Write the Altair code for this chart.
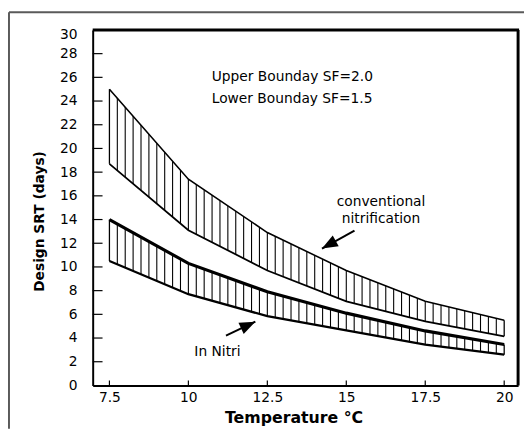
import altair as alt
import pandas as pd

# ---- data ----
temperature = [7.5, 10, 12.5, 15, 17.5, 20]
conv_upper = [25.0, 17.4, 12.9, 9.7, 7.1, 5.5]
conv_lower = [18.7, 13.1, 9.7, 7.1, 5.4, 4.15]
innitri_upper = [14.0, 10.3, 7.9, 6.1, 4.6, 3.45]
innitri_lower = [10.5, 7.7, 5.85, 4.65, 3.45, 2.6]

x_ticks = [7.5, 10, 12.5, 15, 17.5, 20]
y_ticks = [0, 2, 4, 6, 8, 10, 12, 14, 16, 18, 20, 22, 24, 26, 28, 30]
y_inner_ticks = [2, 4, 6, 8, 10, 12, 14, 16, 18, 20, 22, 24, 26, 28]

# annotations
note_text = ["Upper Bounday SF=2.0", "Lower Bounday SF=1.5"]
note_x = [10.74, 10.74]
note_y = [26.0, 24.2]
label_text = ["conventional", "nitrification", "In Nitri"]
label_x = [16.1, 16.1, 10.92]
label_y = [15.5, 14.05, 2.83]
arrow_tail_x = [15.26, 11.19]
arrow_tail_y = [13.07, 4.21]
arrow_head_x = [14.23, 12.12]
arrow_head_y = [11.55, 5.38]
arrow_angle = [241, 65]

df = pd.DataFrame({"T": temperature, "cu": conv_upper, "cl": conv_lower,
                   "iu": innitri_upper, "il": innitri_lower})
notes = pd.DataFrame({"x": note_x, "y": note_y, "t": note_text})
labels = pd.DataFrame({"x": label_x, "y": label_y, "t": label_text})
arrows = pd.DataFrame({"x": arrow_tail_x, "y": arrow_tail_y,
                       "x2": arrow_head_x, "y2": arrow_head_y, "a": arrow_angle})

W, H = 432, 361
xs = alt.Scale(domain=[6.97, 20.44], nice=False, zero=False)
ys = alt.Scale(domain=[0, 30], nice=False, zero=False)
FONT = "DejaVu Sans"

XA = alt.Axis(values=x_ticks, format=".1~f", ticks=False, tickSize=0, grid=False,
              domainColor="black", domainWidth=2, labelFont=FONT, labelFontSize=14,
              labelColor="black", labelPadding=5, labelFlush=False, labelOverlap=False,
              title="Temperature °C", titleFont=FONT, titleFontSize=16,
              titleFontWeight="bold", titleColor="black", titleX=204, titleY=33,
              titleBaseline="middle", titleAlign="center", zindex=1)
YA = alt.Axis(values=y_ticks, ticks=False, tickSize=0, grid=False,
              domainColor="black", domainWidth=2, labelFont=FONT, labelFontSize=14,
              labelColor="black", labelPadding=16, labelFlush=False, labelOverlap=False,
              labelOffset={"condition": {"test": "datum.value == 30", "value": 5}, "value": 0},
              title="Design SRT (days)", titleFont=FONT, titleFontSize=14,
              titleFontWeight="bold", titleColor="black", titleAngle=270,
              titleX=-54, titleY=194, titleBaseline="middle", titleAlign="center", zindex=1)


def X(f):
    return alt.X(f, scale=xs, axis=XA)


def Y(f):
    return alt.Y(f, scale=ys, axis=YA)


base = alt.Chart(df)

# hatch lines (full height, masked afterwards)
hatch = alt.Chart(alt.sequence(7.75, 19.8, 0.25, as_="t")).mark_rule(
    color="black", strokeWidth=1.1).encode(
    x=X("t:Q"),
    y=alt.YDatum(0, type="quantitative", scale=ys, axis=YA),
    y2=alt.Y2Datum(30))

mask_top = base.mark_area(color="white", opacity=1).encode(
    x=X("T:Q"), y=Y("cu:Q"), y2=alt.Y2Datum(30))
mask_mid = base.mark_area(color="white", opacity=1).encode(
    x=X("T:Q"), y=Y("iu:Q"), y2="cl:Q")
mask_bot = base.mark_area(color="white", opacity=1).encode(
    x=X("T:Q"), y=Y("il:Q"), y2=alt.Y2Datum(0))

edges = base.transform_filter("datum.T == 7.5 || datum.T == 20")
edge_conv = edges.mark_rule(color="black", strokeWidth=1.3).encode(
    x=X("T:Q"), y=Y("cl:Q"), y2="cu:Q")
edge_in = edges.mark_rule(color="black", strokeWidth=1.3).encode(
    x=X("T:Q"), y=Y("il:Q"), y2="iu:Q")

line_cu = base.mark_line(color="black", strokeWidth=1.6).encode(x=X("T:Q"), y=Y("cu:Q"))
line_cl = base.mark_line(color="black", strokeWidth=1.8).encode(x=X("T:Q"), y=Y("cl:Q"))
line_iu = base.mark_line(color="black", strokeWidth=3.2).encode(x=X("T:Q"), y=Y("iu:Q"))
line_il = base.mark_line(color="black", strokeWidth=2.3).encode(x=X("T:Q"), y=Y("il:Q"))

note_marks = alt.Chart(notes).mark_text(align="left", baseline="middle", font=FONT,
                                        fontSize=14, color="black").encode(
    x=X("x:Q"), y=Y("y:Q"), text="t:N")
label_marks = alt.Chart(labels).mark_text(align="center", baseline="middle", font=FONT,
                                          fontSize=14, color="black").encode(
    x=X("x:Q"), y=Y("y:Q"), text="t:N")

shaft = alt.Chart(arrows).mark_rule(color="black", strokeWidth=2).encode(
    x=X("x:Q"), y=Y("y:Q"), x2="x2:Q", y2="y2:Q")
head = alt.Chart(arrows).mark_point(shape="M0,0L0.55,1.4L-0.55,1.4Z", filled=True,
                                    color="black", opacity=1, size=520).encode(
    x=X("x2:Q"), y=Y("y2:Q"), angle=alt.Angle("a:Q", scale=None))

ytick_df = pd.DataFrame({"v": y_inner_ticks})
xtick_df = pd.DataFrame({"v": x_ticks})
ytick_marks = alt.Chart(ytick_df).mark_rule(color="black", strokeWidth=1.2).encode(
    y=Y("v:Q"), x=alt.value(0), x2=alt.value(10))
xtick_marks = alt.Chart(xtick_df).mark_rule(color="black", strokeWidth=1.2).encode(
    x=X("v:Q"), y=alt.value(H), y2=alt.value(H - 5))

one = pd.DataFrame({"k": [0]})
frame_top = alt.Chart(one).mark_rule(color="black", strokeWidth=3).encode(
    x=alt.value(0), x2=alt.value(W + 1), y=alt.value(0))
frame_right = alt.Chart(one).mark_rule(color="black", strokeWidth=3).encode(
    x=alt.value(W), y=alt.value(0), y2=alt.value(H))
outer_top = alt.Chart(one).mark_rule(color="#5a5a5a", strokeWidth=2).encode(
    x=alt.value(-85), x2=alt.value(W + 6), y=alt.value(-18))
outer_left = alt.Chart(one).mark_rule(color="#5a5a5a", strokeWidth=2).encode(
    x=alt.value(-85), y=alt.value(-18), y2=alt.value(H + 44))

chart = alt.layer(
    hatch, mask_top, mask_mid, mask_bot, edge_conv, edge_in,
    line_cl, line_iu, line_il, line_cu,
    note_marks, label_marks, shaft, head, ytick_marks, xtick_marks,
    frame_top, frame_right, outer_top, outer_left
).properties(
    width=W, height=H,
    padding={"left": 86, "top": 19, "right": 6, "bottom": 44},
    autosize=alt.AutoSizeParams(type="none"),
    background="white"
).configure_view(stroke="transparent")

chart.save("out.html", embed_options={"renderer": "svg", "actions": False})
